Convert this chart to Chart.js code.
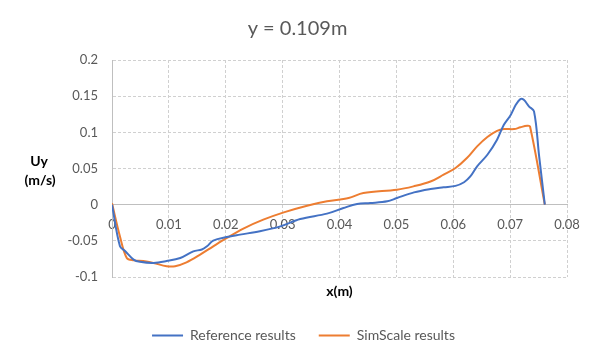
<!DOCTYPE html>
<html>
<head>
<meta charset="utf-8">
<script src="https://cdn.jsdelivr.net/npm/chart.js@4/dist/chart.umd.min.js"></script>
<style>
  html, body { margin: 0; padding: 0; background: #ffffff; }
  #wrap { width: 595px; height: 356px; }
</style>
</head>
<body>
<div id="wrap"><canvas id="c" width="595" height="356"></canvas></div>
<script>
const chartTitle = 'y = 0.109m';
const xAxisTitle = 'x(m)';
const yAxisTitle = ['Uy', '(m/s)'];
const seriesNames = ['Reference results', 'SimScale results'];

const refX = [0, 0.0014, 0.0023, 0.0038, 0.0049, 0.0073, 0.0096, 0.012, 0.0143, 0.0158, 0.0167, 0.0178, 0.0202, 0.0225, 0.026, 0.0296, 0.0331, 0.0378, 0.0407, 0.0431, 0.0454, 0.0484, 0.0501, 0.0531, 0.056, 0.0583, 0.0604, 0.0619, 0.063, 0.0642, 0.066, 0.0677, 0.0689, 0.0701, 0.071, 0.0718, 0.0724, 0.0733, 0.0742, 0.0751, 0.0761];
const refY = [0, -0.0576, -0.064, -0.076, -0.079, -0.0806, -0.078, -0.0737, -0.0645, -0.062, -0.0576, -0.0497, -0.0447, -0.0414, -0.0368, -0.030, -0.0198, -0.0124, -0.0046, 0.001, 0.0023, 0.0046, 0.0092, 0.017, 0.0216, 0.024, 0.026, 0.031, 0.039, 0.053, 0.069, 0.0898, 0.1105, 0.124, 0.138, 0.146, 0.145, 0.136, 0.129, 0.067, 0];

const simX = [0, 0.0014, 0.0026, 0.0038, 0.0055, 0.0073, 0.0096, 0.0111, 0.0131, 0.0155, 0.0178, 0.0202, 0.0231, 0.0266, 0.0302, 0.0343, 0.0378, 0.0416, 0.0442, 0.0501, 0.053, 0.056, 0.0583, 0.0604, 0.0624, 0.0642, 0.066, 0.0677, 0.0689, 0.0707, 0.0718, 0.073, 0.0735, 0.0761];
const simY = [0.002, -0.044, -0.0737, -0.077, -0.078, -0.0806, -0.085, -0.085, -0.0797, -0.069, -0.0576, -0.046, -0.033, -0.0207, -0.0106, -0.0014, 0.0046, 0.0092, 0.016, 0.0207, 0.0253, 0.032, 0.0414, 0.0507, 0.0645, 0.0806, 0.0935, 0.102, 0.1045, 0.1045, 0.107, 0.109, 0.108, 0];

const xTicks = [0, 0.01, 0.02, 0.03, 0.04, 0.05, 0.06, 0.07, 0.08];
const yTicks = [-0.1, -0.05, 0, 0.05, 0.1, 0.15, 0.2];

const FONT = 'Lato, "Open Sans", sans-serif';
const TXT = '#595959';
const GRID = '#d0d0d0';
const AXIS = '#bfbfbf';

function pts(xs, ys) { return xs.map((x, i) => ({ x: x, y: ys[i] })); }
function fmt(v) { const n = +Number(v).toFixed(3); return (n === 0 ? 0 : n).toString(); }

const yTitlePlugin = {
  id: 'yTitle',
  afterLayout(chart) {
    if (chart.legend) { chart.legend.left += 6; chart.legend.right += 6; }
  },
  afterDraw(chart) {
    const ctx = chart.ctx;
    ctx.save();
    ctx.fillStyle = '#000000';
    ctx.font = 'bold 14px ' + FONT;
    ctx.textAlign = 'center';
    ctx.textBaseline = 'middle';
    ctx.fillText(yAxisTitle[0], 39, 161);
    ctx.fillText(yAxisTitle[1], 40, 180);
    ctx.restore();
  }
};

new Chart(document.getElementById('c'), {
  type: 'line',
  data: {
    datasets: [
      { label: seriesNames[0], data: pts(refX, refY), borderColor: '#4472c4', backgroundColor: '#4472c4', borderWidth: 2, pointRadius: 0, tension: 0.35, fill: false },
      { label: seriesNames[1], data: pts(simX, simY), borderColor: '#ed7d31', backgroundColor: '#ed7d31', borderWidth: 2, pointRadius: 0, tension: 0.35, fill: false }
    ]
  },
  options: {
    responsive: false,
    animation: false,
    layout: { padding: { left: 0, right: 0, top: 0, bottom: 3.6 } },
    plugins: {
      title: {
        display: true, text: chartTitle, color: TXT,
        font: { family: FONT, size: 20, weight: 'normal', lineHeight: 1.2 },
        padding: { top: 17, bottom: 19 }
      },
      legend: {
        display: true, position: 'bottom',
        labels: {
          color: TXT, font: { family: FONT, size: 14, lineHeight: 1.2 },
          usePointStyle: true, pointStyle: 'line', pointStyleWidth: 31, boxHeight: 14,
          padding: 23
        }
      },
      tooltip: { enabled: false }
    },
    scales: {
      x: {
        type: 'linear', min: 0, max: 0.08, position: { y: 0 },
        afterBuildTicks: (s) => { s.ticks = xTicks.map(v => ({ value: v })); },
        ticks: { color: TXT, font: { family: FONT, size: 13 }, padding: 12, callback: fmt, maxRotation: 0, autoSkip: false },
        grid: { color: GRID, drawTicks: false },
        border: { display: true, color: AXIS, width: 1, dash: [3, 2] }
      },
      x2: {
        type: 'linear', min: 0, max: 0.08, position: 'bottom', display: true,
        ticks: { display: false }, grid: { display: false }, border: { display: false },
        title: { display: true, text: xAxisTitle, color: '#000000', font: { family: FONT, size: 14, weight: 'bold', lineHeight: 1.2 }, padding: { top: 0, bottom: 5.2 } },
        afterFit: (s) => { s.height = 28.4; }
      },
      y: {
        type: 'linear', min: -0.1, max: 0.2, position: 'left',
        afterBuildTicks: (s) => { s.ticks = yTicks.map(v => ({ value: v })); },
        ticks: { color: TXT, font: { family: FONT, size: 13 }, padding: 14, callback: fmt },
        grid: { color: GRID, drawTicks: false },
        border: { display: true, color: AXIS, width: 1, dash: [3, 2] },
        afterFit: (s) => { s.width = 112; }
      },
      y2: {
        type: 'linear', min: 0, max: 1, position: 'right', display: true,
        ticks: { display: false }, grid: { display: false }, border: { display: false },
        afterFit: (s) => { s.width = 28; }
      }
    }
  },
  plugins: [yTitlePlugin]
});
</script>
</body>
</html>
